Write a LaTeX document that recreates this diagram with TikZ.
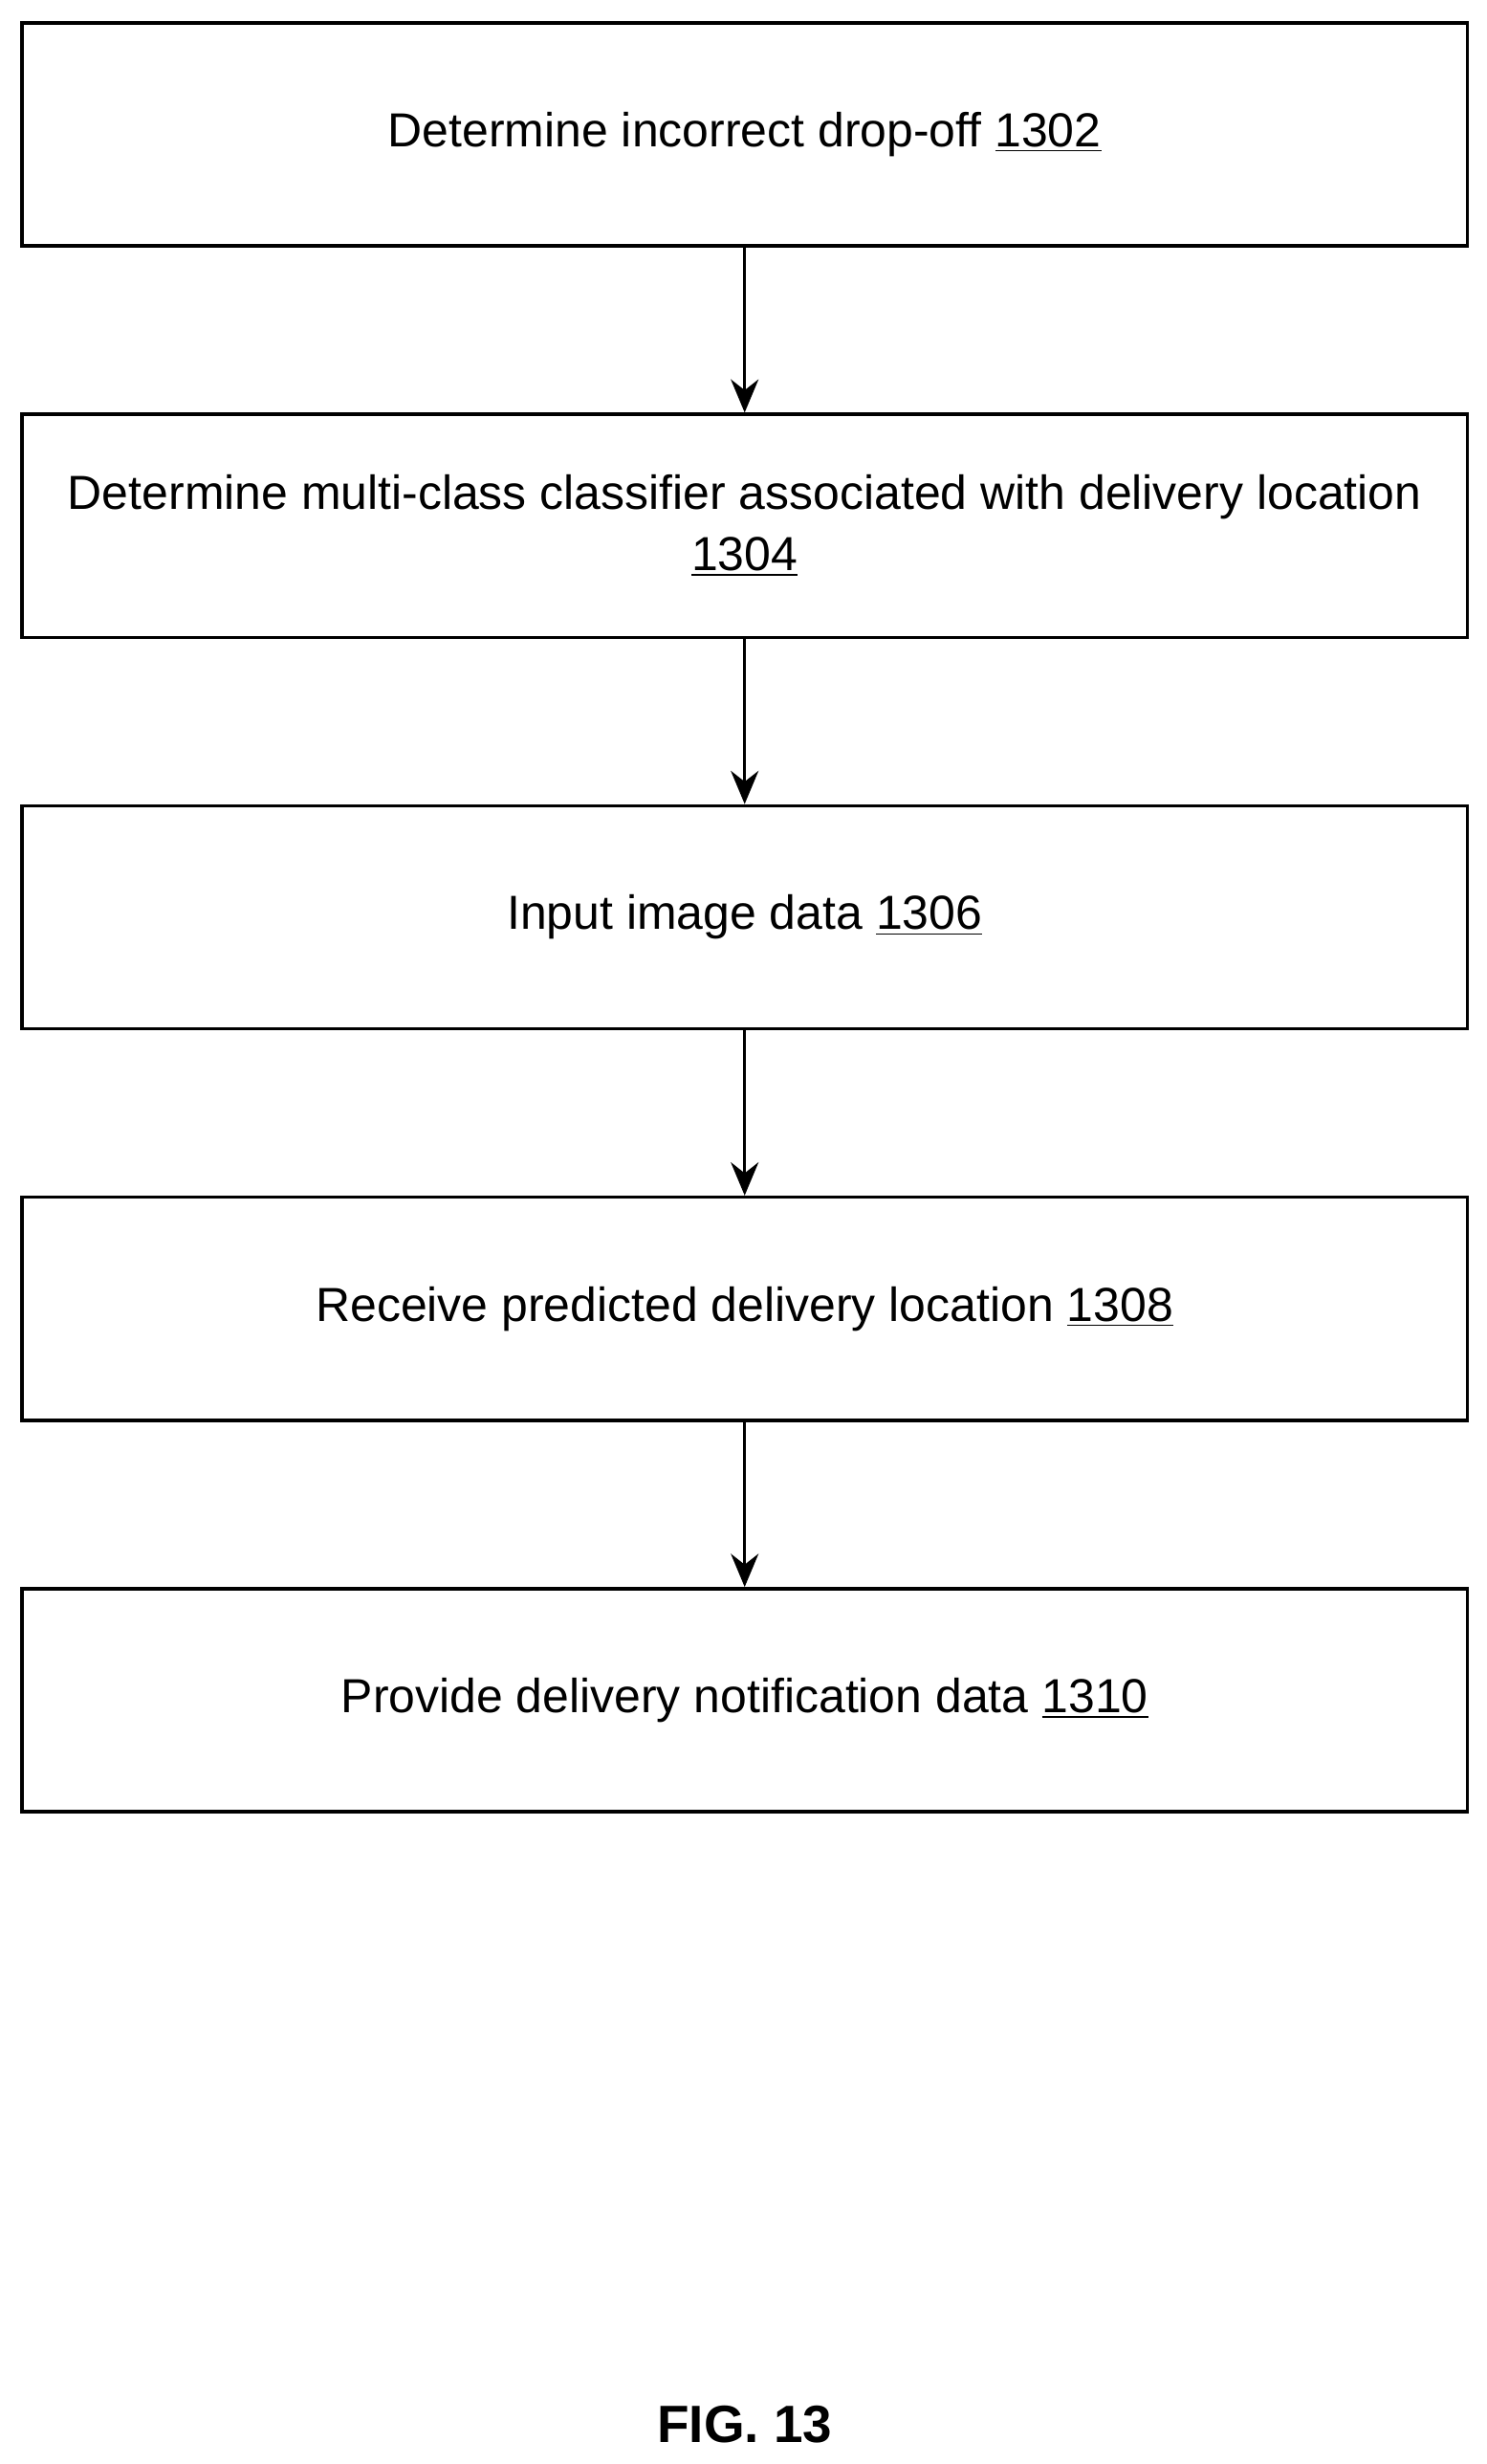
\documentclass[tikz,border=0pt]{standalone}
\usepackage{fontspec}
\setmainfont{Liberation Sans}
\usetikzlibrary{arrows.meta,positioning}

\begin{document}
\begin{tikzpicture}[
    stepbox/.style={draw, line width=1.2pt, minimum width=18.4cm, minimum height=2.84cm, align=center, font=\fontsize{17.3}{22}\selectfont, inner sep=0pt},
    flow/.style={-{Stealth[length=12pt,width=10pt]}, line width=1.2pt},
    node distance=2.1cm
  ]
    \useasboundingbox (0,0) rectangle (18.92,-31.36);

    % Steps of the flow
    \node[stepbox] (s1302) at (9.48,-1.71) {Determine incorrect drop-off \underline{1302}};
    \node[stepbox, below=of s1302] (s1304) {Determine multi-class classifier associated with delivery location\\\underline{1304}};
    \node[stepbox, below=of s1304] (s1306) {Input image data \underline{1306}};
    \node[stepbox, below=of s1306] (s1308) {Receive predicted delivery location \underline{1308}};
    \node[stepbox, below=of s1308] (s1310) {Provide delivery notification data \underline{1310}};

    % Arrows between steps
    \foreach \a/\b in {s1302/s1304, s1304/s1306, s1306/s1308, s1308/s1310}
        \draw[flow] (\a) -- (\b);

    % Figure label
    \node[font=\fontsize{19}{22}\selectfont\bfseries] (fig) at (9.48,-30.86) {FIG. 13};
\end{tikzpicture}
\end{document}
